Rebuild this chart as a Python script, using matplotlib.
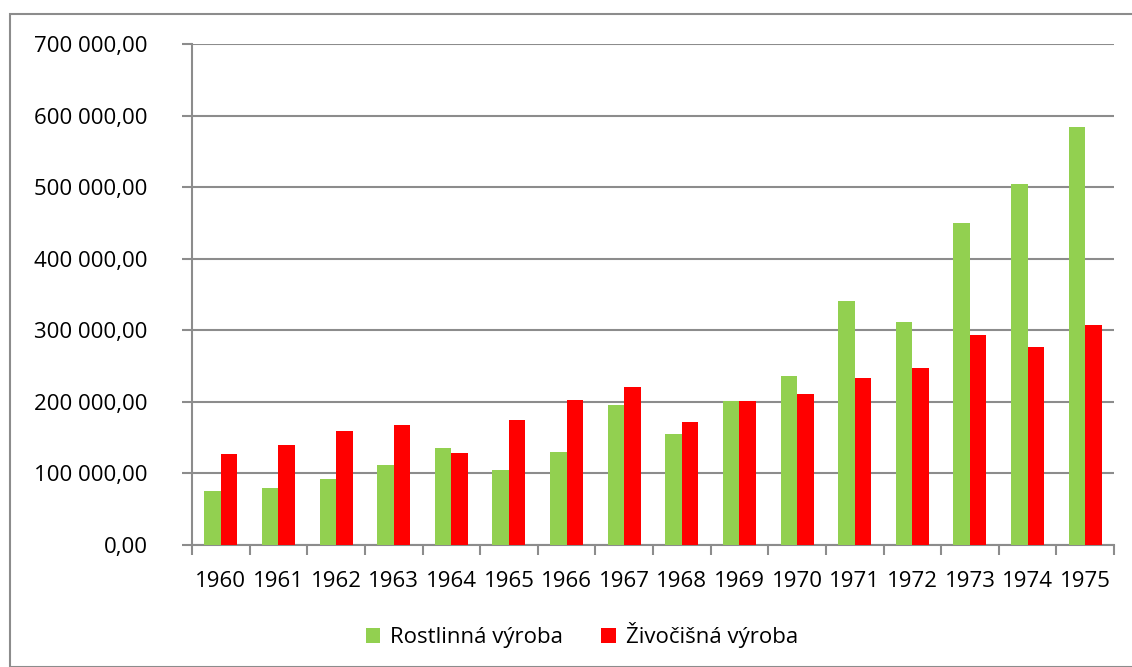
import matplotlib.pyplot as plt
import numpy as np
from matplotlib.patches import Rectangle
from matplotlib.ticker import FuncFormatter

years = ["1960", "1961", "1962", "1963", "1964", "1965", "1966", "1967",
         "1968", "1969", "1970", "1971", "1972", "1973", "1974", "1975"]
rostlinna = [75500, 79300, 92000, 112000, 135700, 104400, 129600, 196200,
             155700, 201000, 236000, 341000, 312000, 450000, 505000, 584000]
zivocisna = [126800, 139400, 159400, 167800, 129100, 174800, 202800, 221000,
             172000, 201000, 211000, 233000, 248000, 293000, 276000, 308000]

green = "#92d050"
red = "#ff0000"
grid_col = "#8c8c8c"

plt.rcParams['font.family'] = ['Open Sans', 'DejaVu Sans']

fig = plt.figure(figsize=(11.32, 6.67), dpi=100)
ax = fig.add_axes([192 / 1132, 1 - 545 / 667, (1114 - 192) / 1132, (545 - 44) / 667])

x = np.arange(len(years))
w = 1 / 3.5
ax.bar(x - w / 2, rostlinna, w, color=green, label="Rostlinná výroba", zorder=3)
ax.bar(x + w / 2, zivocisna, w, color=red, label="Živočišná výroba", zorder=3)

ax.set_xlim(-0.5, len(years) - 0.5)
ax.set_ylim(0, 700000)
ax.set_yticks(np.arange(0, 700001, 100000))
ax.yaxis.set_major_formatter(FuncFormatter(lambda v, p: f"{v:,.2f}".replace(",", " ").replace(".", ",")))
ax.grid(axis="y", color=grid_col, linewidth=1.5, zorder=0)

ax.set_xticks(np.arange(-0.5, len(years), 1))
ax.set_xticklabels([])
ax.set_xticks(x, minor=True)
ax.set_xticklabels(years, minor=True)
ax.tick_params(axis="x", which="major", direction="out", length=7, width=1.5, color=grid_col)
ax.tick_params(axis="x", which="minor", length=0, pad=19, labelsize=16)
ax.tick_params(axis="y", direction="out", length=7, width=1.5, color=grid_col, labelsize=16, pad=25)

for s in ["top", "right"]:
    ax.spines[s].set_visible(False)
for s in ["left", "bottom"]:
    ax.spines[s].set_color(grid_col)
    ax.spines[s].set_linewidth(1.5)

fig.legend(loc="center", bbox_to_anchor=(582 / 1132, 1 - 635 / 667), ncol=2, frameon=False,
           fontsize=16, handlelength=0.65, handleheight=0.65, columnspacing=1.7, handletextpad=0.45)

fig.patches.append(Rectangle((10 / 1132, 0), 1.0, 1 - 14 / 667, transform=fig.transFigure,
                             fill=False, edgecolor=grid_col, linewidth=1.5))

fig.savefig("out.png", dpi=100)
